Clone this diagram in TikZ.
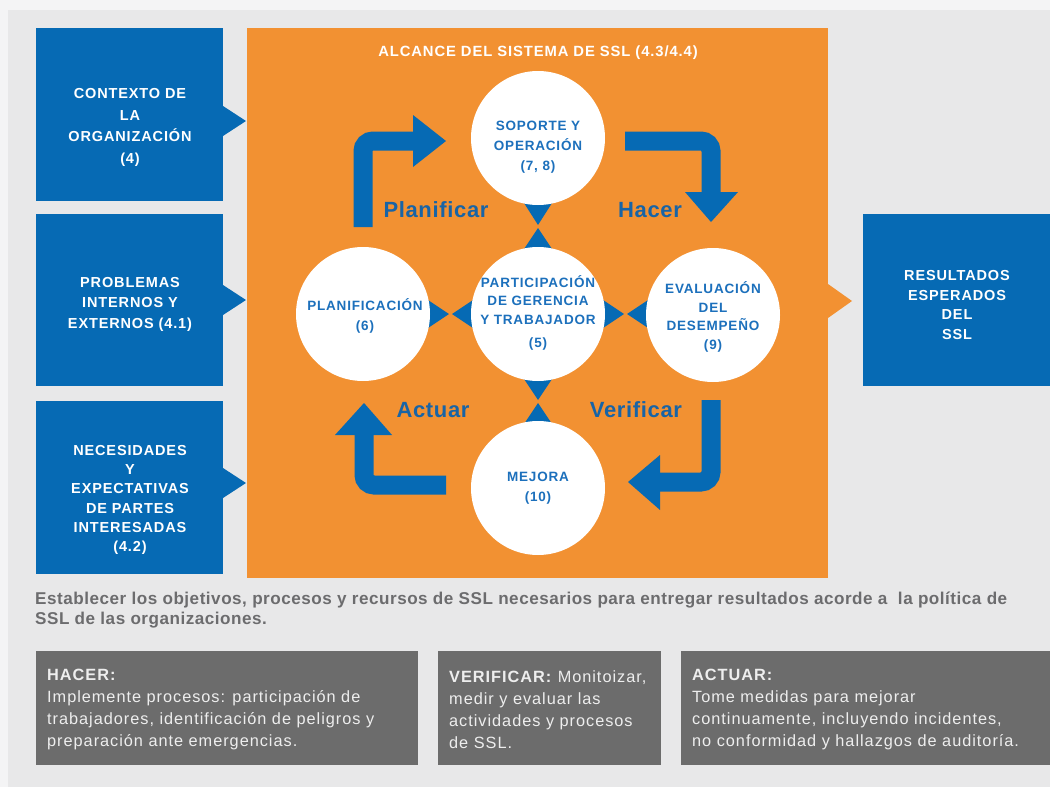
\documentclass[tikz,border=0pt]{standalone}
\usepackage{fontspec}
\setmainfont{Liberation Sans}
\newfontfamily\wfont[LetterSpace=6]{Liberation Sans}
\newfontfamily\lfont[LetterSpace=3]{Liberation Sans}
\definecolor{bgc}{RGB}{232,232,233}
\definecolor{topc}{RGB}{244,244,245}
\definecolor{boxblue}{RGB}{6,106,180}
\definecolor{orng}{RGB}{242,145,50}
\definecolor{txtblue}{RGB}{28,112,188}
\definecolor{lblblue}{RGB}{24,100,166}
\definecolor{dgray}{RGB}{108,108,108}
\definecolor{tgray}{RGB}{108,108,110}
\definecolor{ltxt}{RGB}{238,238,238}
\tikzset{
  bluebox/.style={fill=boxblue, draw=none, inner sep=0pt, outer sep=0pt},
  boxtext/.style={text=white, align=center, font=\wfont\bfseries\fontsize{14.5}{21.7}\selectfont, inner sep=0pt},
  circ/.style={circle, fill=white, draw=none, minimum size=134pt, inner sep=0pt},
  ctext/.style={text=txtblue, align=center, font=\wfont\bfseries\fontsize{13.5}{19.5}\selectfont, inner sep=0pt},
  bigarrow/.style={draw=boxblue, line width=19pt, rounded corners=10pt, line cap=butt},
  phase/.style={text=lblblue, font=\lfont\bfseries\fontsize{22}{24}\selectfont, inner sep=0pt},
  gtext/.style={text=ltxt, align=left, anchor=north west, font=\wfont\fontsize{16.3}{22}\selectfont, inner sep=0pt},
}
\begin{document}
\begin{tikzpicture}[x=1pt,y=-1pt]
\useasboundingbox (0,0) rectangle (1050,787);
\fill[bgc] (0,0) rectangle (1050,787);
\fill[topc] (0,0) rectangle (1050,10);
\fill[topc] (0,0) rectangle (8,787);

% left blue boxes
\node[bluebox, minimum width=187pt, minimum height=173pt] (ctx) at (129.5,114.5) {};
\node[bluebox, minimum width=187pt, minimum height=172pt] (prob) at (129.5,300) {};
\node[bluebox, minimum width=187pt, minimum height=173pt] (nec) at (129.5,487.5) {};
\fill[boxblue] (223,106) -- (246,121) -- (223,136) -- cycle;
\fill[boxblue] (223,285) -- (246,300) -- (223,315) -- cycle;
\fill[boxblue] (223,468) -- (246,483) -- (223,498) -- cycle;
\node[boxtext] (ctxt) at (130,127.5) {CONTEXTO DE\\LA\\ORGANIZACIÓN\\(4)};
\node[boxtext, font=\wfont\bfseries\fontsize{14.5}{20.5}\selectfont] (probt) at (130,304) {PROBLEMAS\\INTERNOS Y\\EXTERNOS (4.1)};
\node[boxtext, font=\wfont\bfseries\fontsize{14.5}{19.2}\selectfont] (nect) at (130,500) {NECESIDADES\\Y\\EXPECTATIVAS\\DE PARTES\\INTERESADAS\\(4.2)};

% orange scope
\node[fill=orng, draw=none, minimum width=581pt, minimum height=550pt, inner sep=0pt] (scope) at (537.5,303) {};
\fill[orng] (828,284) -- (852,301) -- (828,318) -- cycle;
\node[text=white, font=\wfont\bfseries\fontsize{14.8}{16}\selectfont, inner sep=0pt] (title) at (538,53) {ALCANCE DEL SISTEMA DE SSL (4.3/4.4)};

% right box
\node[bluebox, minimum width=187pt, minimum height=172pt] (res) at (956.5,300) {};
\node[boxtext, font=\wfont\bfseries\fontsize{14.5}{19.7}\selectfont] (rest) at (957,305) {RESULTADOS\\ESPERADOS\\DEL\\SSL};

% bowtie triangles
\fill[boxblue] (524,203) -- (552,203) -- (538,225) -- cycle;
\fill[boxblue] (524,249) -- (552,249) -- (538,228) -- cycle;
\fill[boxblue] (428,300) -- (428,328) -- (449,314) -- cycle;
\fill[boxblue] (473,300) -- (473,328) -- (452,314) -- cycle;
\fill[boxblue] (603,300) -- (603,328) -- (624,314) -- cycle;
\fill[boxblue] (648,300) -- (648,328) -- (627,314) -- cycle;
\fill[boxblue] (524,379) -- (552,379) -- (538,400) -- cycle;
\fill[boxblue] (524,424) -- (552,424) -- (538,403) -- cycle;

% circles
\node[circ] (sop) at (538,138) {};
\node[circ] (part) at (538,314) {};
\node[circ] (plan) at (363,314) {};
\node[circ] (eval) at (713,315) {};
\node[circ] (mej) at (538,488) {};
\node[ctext, font=\wfont\bfseries\fontsize{13.5}{20}\selectfont] (sopt) at (538,147) {SOPORTE Y\\OPERACIÓN\\(7, 8)};
\node[ctext, font=\wfont\bfseries\fontsize{13.5}{18.5}\selectfont] (partt) at (538,313) {PARTICIPACIÓN\\DE GERENCIA\\Y TRABAJADOR\\[5pt](5)};
\node[ctext] (plant) at (365,316) {PLANIFICACIÓN\\(6)};
\node[ctext, font=\wfont\bfseries\fontsize{13.5}{18.5}\selectfont] (evalt) at (713,317) {EVALUACIÓN\\DEL\\DESEMPEÑO\\(9)};
\node[ctext] (mejt) at (538,488) {MEJORA\\(10)};

% big L arrows
\draw[bigarrow] (363,227) -- (363,141) -- (415,141);
\fill[boxblue] (413,115) -- (446,141) -- (413,167) -- cycle;
\draw[bigarrow] (625,141) -- (711,141) -- (711,194);
\fill[boxblue] (685,192) -- (711,222) -- (738,192) -- cycle;
\draw[bigarrow] (711,400) -- (711,482) -- (658,482);
\fill[boxblue] (660,455) -- (628,482) -- (660,510) -- cycle;
\draw[bigarrow] (446,485) -- (364,485) -- (364,433);
\fill[boxblue] (335,435) -- (364,403) -- (392,435) -- cycle;

\node[phase] (lplan) at (436,210) {Planificar};
\node[phase] (lhac) at (650,210) {Hacer};
\node[phase] (lact) at (433,410) {Actuar};
\node[phase] (lver) at (636,410) {Verificar};

% statement
\node[text=tgray, anchor=north west, align=left, font=\lfont\bfseries\fontsize{17.1}{20}\selectfont, inner sep=0pt] (stmt) at (35,592) {Establecer los objetivos, procesos y recursos de SSL necesarios para entregar resultados acorde a\ \ la política de\\SSL de las organizaciones.};

% gray boxes
\fill[dgray] (36,651) rectangle (418,765);
\fill[dgray] (438,651) rectangle (661,765);
\fill[dgray] (681,651) rectangle (1050,765);
\node[gtext] (hac) at (47,669) {\textbf{HACER:}\\Implemente procesos: participación de\\trabajadores, identificación de peligros y\\preparación ante emergencias.};
\node[gtext] (ver) at (449,670) {\textbf{VERIFICAR:} Monitoizar,\\medir y evaluar las\\actividades y procesos\\de SSL.};
\node[gtext] (act) at (692,669) {\textbf{ACTUAR:}\\Tome medidas para mejorar\\continuamente, incluyendo incidentes,\\no conformidad y hallazgos de auditoría.};
\end{tikzpicture}
\end{document}
